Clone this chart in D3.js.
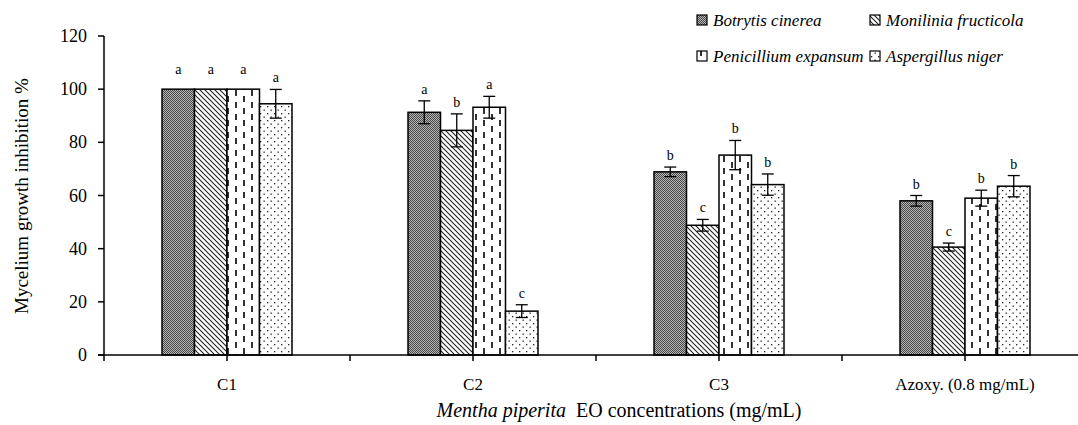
<!DOCTYPE html>
<html>
<head>
<meta charset="utf-8">
<script src="https://cdn.jsdelivr.net/npm/d3@7"></script>
<style>
  body { margin: 0; background: #fff; }
  svg { display: block; font-family: "Liberation Serif", "Times New Roman", serif; }
</style>
</head>
<body>
<svg width="1078" height="425"></svg>
<script>
// data
var categories = ["C1", "C2", "C3", "Azoxy. (0.8 mg/mL)"];
var series = ["Botrytis cinerea", "Monilinia fructicola", "Penicillium expansum", "Aspergillus niger"];
var values = [
	[100, 100, 100, 94.5],
	[91.3, 84.5, 93.2, 16.5],
	[68.9, 48.8, 75.2, 64.1],
	[58.0, 40.6, 59.0, 63.5]
];
var errors = [
	[0, 0, 0, 5.4],
	[4.3, 6.2, 4.1, 2.4],
	[1.8, 2.2, 5.5, 4.0],
	[2.0, 1.5, 3.0, 4.0]
];
var letters = [
	["a", "a", "a", "a"],
	["a", "b", "a", "c"],
	["b", "c", "b", "b"],
	["b", "c", "b", "b"]
];
var yTicks = [0, 20, 40, 60, 80, 100, 120];

var svg = d3.select("svg"),
	width = +svg.attr("width"),
	height = +svg.attr("height");

var x = d3.scaleBand().domain(categories).range([104, 1088]).paddingInner(0).paddingOuter(0);
var x1 = d3.scaleBand().domain(series).range([0, x.bandwidth()]).paddingInner(0).paddingOuter(1.785);
var y = d3.scaleLinear().domain([0, 120]).range([355, 36]);

// patterns
var defs = svg.append("defs");
var pat = defs.append("pattern").attr("id", "p0").attr("patternUnits", "userSpaceOnUse").attr("width", 2).attr("height", 2);
pat.append("rect").attr("width", 2).attr("height", 2).attr("fill", "#b4b4b4");
pat.append("rect").attr("width", 1).attr("height", 1).attr("fill", "#4a4a4a");
pat.append("rect").attr("x", 1).attr("y", 1).attr("width", 1).attr("height", 1).attr("fill", "#4a4a4a");

pat = defs.append("pattern").attr("id", "p1").attr("patternUnits", "userSpaceOnUse").attr("width", 5).attr("height", 5);
pat.append("rect").attr("width", 5).attr("height", 5).attr("fill", "#fff");
pat.append("path").attr("d", "M-1,-1L6,6M-1,4L1,6M4,-1L6,1").attr("stroke", "#222").attr("stroke-width", 1.1);

pat = defs.append("pattern").attr("id", "p2").attr("patternUnits", "userSpaceOnUse").attr("width", 16).attr("height", 12);
pat.append("rect").attr("width", 16).attr("height", 12).attr("fill", "#fff");
pat.append("rect").attr("x", 3).attr("y", 0).attr("width", 2).attr("height", 6).attr("fill", "#333");
pat.append("rect").attr("x", 11).attr("y", 6).attr("width", 2).attr("height", 6).attr("fill", "#333");

pat = defs.append("pattern").attr("id", "p3").attr("patternUnits", "userSpaceOnUse").attr("width", 7).attr("height", 7);
pat.append("rect").attr("width", 7).attr("height", 7).attr("fill", "#fff");
pat.append("rect").attr("x", 1).attr("y", 1).attr("width", 1.3).attr("height", 1.3).attr("fill", "#222");
pat.append("rect").attr("x", 4.5).attr("y", 4.5).attr("width", 1.3).attr("height", 1.3).attr("fill", "#222");

var fills = ["url(#p0)", "url(#p1)", "url(#p2)", "url(#p3)"];

// bars
var rows = [];
categories.forEach(function(c, i) {
	series.forEach(function(s, j) {
		rows.push({cat: c, ser: s, j: j, v: values[i][j], e: errors[i][j], l: letters[i][j]});
	});
});

var g = svg.append("g");
g.selectAll(".bar").data(rows).enter().append("rect")
	.attr("class", "bar")
	.attr("x", function(d) { return x(d.cat) + x1(d.ser); })
	.attr("y", function(d) { return y(d.v); })
	.attr("width", x1.bandwidth())
	.attr("height", function(d) { return y(0) - y(d.v); })
	.attr("fill", function(d) { return fills[d.j]; })
	.attr("stroke", "#000").attr("stroke-width", 1.5);

// error bars
var eb = g.selectAll(".err").data(rows.filter(function(d) { return d.e > 0; })).enter().append("g")
	.attr("stroke", "#000").attr("stroke-width", 1.3);
eb.append("line")
	.attr("x1", function(d) { return x(d.cat) + x1(d.ser) + x1.bandwidth() / 2; })
	.attr("x2", function(d) { return x(d.cat) + x1(d.ser) + x1.bandwidth() / 2; })
	.attr("y1", function(d) { return y(d.v + d.e); })
	.attr("y2", function(d) { return y(d.v - d.e); });
[1, -1].forEach(function(sg) {
	eb.append("line")
		.attr("x1", function(d) { return x(d.cat) + x1(d.ser) + x1.bandwidth() / 2 - 6; })
		.attr("x2", function(d) { return x(d.cat) + x1(d.ser) + x1.bandwidth() / 2 + 6; })
		.attr("y1", function(d) { return y(d.v + sg * d.e); })
		.attr("y2", function(d) { return y(d.v + sg * d.e); });
});

// letters
g.selectAll(".lt").data(rows).enter().append("text")
	.attr("x", function(d) { return x(d.cat) + x1(d.ser) + x1.bandwidth() / 2; })
	.attr("y", function(d) { return y(d.v + d.e) - (d.e > 0 ? 7 : 15); })
	.attr("text-anchor", "middle")
	.attr("font-size", 14)
	.text(function(d) { return d.l; });

// y axis
var ya = svg.append("g").attr("stroke", "#000").attr("stroke-width", 1.5);
ya.append("line").attr("x1", 104).attr("x2", 104).attr("y1", y(120)).attr("y2", y(0));
ya.selectAll(".yt").data(yTicks).enter().append("line")
	.attr("x1", 98).attr("x2", 104)
	.attr("y1", function(d) { return y(d); }).attr("y2", function(d) { return y(d); });
svg.append("g").selectAll("text").data(yTicks).enter().append("text")
	.attr("x", 87).attr("y", function(d) { return y(d) + 6; })
	.attr("text-anchor", "end").attr("font-size", 18)
	.text(function(d) { return d; });

// x axis
var xTicks = [104];
categories.forEach(function(c) {
	xTicks.push(x(c) + x.bandwidth() / 2);
	xTicks.push(x(c) + x.bandwidth());
});
var xa = svg.append("g").attr("stroke", "#000").attr("stroke-width", 1.5);
xa.append("line").attr("x1", 98).attr("x2", width).attr("y1", y(0)).attr("y2", y(0));
xa.selectAll(".xt").data(xTicks).enter().append("line")
	.attr("x1", function(d) { return d; }).attr("x2", function(d) { return d; })
	.attr("y1", y(0)).attr("y2", y(0) + 6);
svg.append("g").selectAll("text").data(categories).enter().append("text")
	.attr("x", function(d) { return x(d) + x.bandwidth() / 2; })
	.attr("y", 390).attr("text-anchor", "middle").attr("font-size", 17)
	.text(function(d) { return d; });

// axis titles
var xt = svg.append("text").attr("x", 619).attr("y", 417).attr("text-anchor", "middle").attr("font-size", 20);
xt.append("tspan").attr("font-style", "italic").text("Mentha piperita");
xt.append("tspan").text("\u00a0 EO concentrations (mg/mL)");

svg.append("text")
	.attr("transform", "translate(28,196) rotate(-90)")
	.attr("text-anchor", "middle").attr("font-size", 19)
	.text("Mycelium growth inhibition %");

// legend
var legPos = [[697, 26], [870, 26], [697, 62], [870, 62]];
var leg = svg.append("g").selectAll("g").data(series).enter().append("g")
	.attr("transform", function(d, i) { return "translate(" + legPos[i][0] + "," + legPos[i][1] + ")"; });
leg.append("rect").attr("x", 0).attr("y", -11).attr("width", 10).attr("height", 10)
	.attr("fill", function(d, i) { return fills[i]; })
	.attr("stroke", "#000").attr("stroke-width", 1.2);
leg.append("text").attr("x", 16).attr("y", 0)
	.attr("font-size", 17).attr("font-style", "italic")
	.text(function(d) { return d; });
</script>
</body>
</html>
